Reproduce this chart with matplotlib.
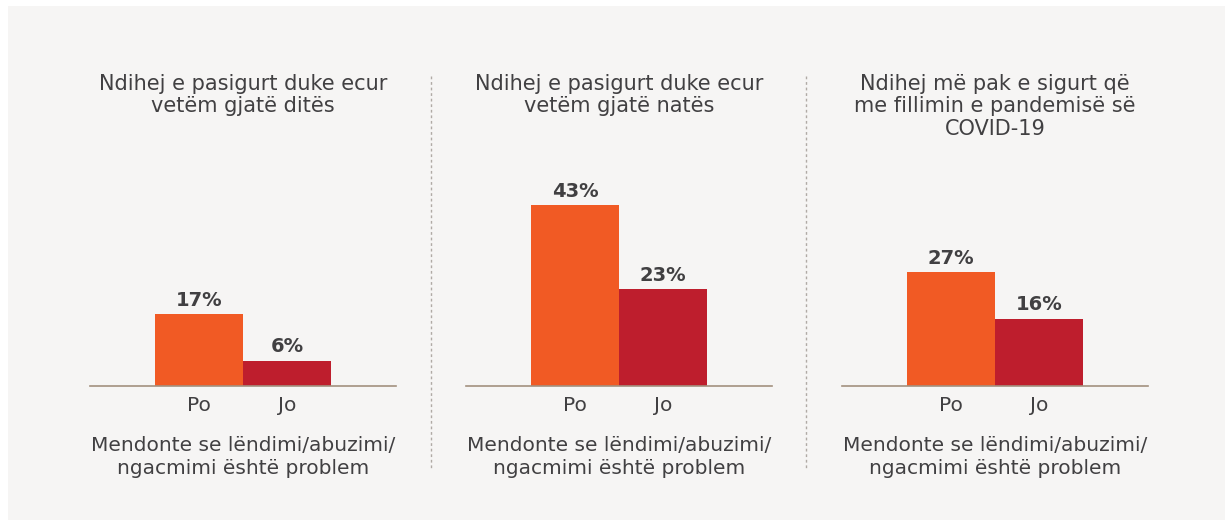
import numpy as np
import matplotlib
matplotlib.use('Agg')
import matplotlib.pyplot as plt
from matplotlib.patches import Rectangle
from matplotlib.lines import Line2D

# data
titles = ['Ndihej e pasigurt duke ecur\nvetëm gjatë ditës',
          'Ndihej e pasigurt duke ecur\nvetëm gjatë natës',
          'Ndihej më pak e sigurt që\nme fillimin e pandemisë së\nCOVID-19']
categories = ['Po', 'Jo']
po_values = [17, 43, 27]
jo_values = [6, 23, 16]
xlabel = 'Mendonte se lëndimi/abuzimi/\nngacmimi është problem'

orange = '#f15a24'
red = '#be1e2d'
txt = '#414042'
bg = '#f6f5f4'

plt.rcParams['font.family'] = ['DejaVu Sans']

W, H = 1225, 520
fig = plt.figure(figsize=(W / 100, H / 100), dpi=100)
fig.patch.set_facecolor('white')
# light gray panel
fig.patches.append(Rectangle((8 / W, 0), 1 - 8 / W, 1 - 6 / H, transform=fig.transFigure,
                             facecolor=bg, edgecolor='none', zorder=-10))

ax_left = [90, 466, 842]
ax_w = 306
base_y = 386
top_y = 150

for i in range(3):
    ax = fig.add_axes([ax_left[i] / W, 1 - base_y / H, ax_w / W, (base_y - top_y) / H])
    ax.set_facecolor('none')
    vals = [po_values[i], jo_values[i]]
    x = np.arange(len(categories))
    ax.bar(x, vals, width=1.0, color=[orange, red], zorder=2)
    for xi, v in zip(x, vals):
        ax.text(xi, v + 1.0, f'{v}%', ha='center', va='bottom', fontsize=14,
                fontweight='bold', color=txt)
    ax.set_xlim(-1.239, 2.239)
    ax.set_ylim(0, 56)
    for s in ['top', 'right', 'left']:
        ax.spines[s].set_visible(False)
    ax.spines['bottom'].set_color('#a3917f')
    ax.spines['bottom'].set_linewidth(1.2)
    ax.set_yticks([])
    ax.set_xticks(x)
    ax.set_xticklabels(categories, fontsize=14.5, color=txt)
    ax.tick_params(axis='x', length=0, pad=7)
    ax.set_xlabel(xlabel, fontsize=14.5, color=txt, labelpad=15, linespacing=1.3)

    cx = (ax_left[i] + ax_w / 2) / W
    fig.text(cx, 1 - 74 / H, titles[i], ha='center', va='top', fontsize=15,
             color=txt, linespacing=1.15)

# dotted separators
for xs in [431, 806]:
    fig.lines.append(Line2D([xs / W, xs / W], [1 - 76 / H, 1 - 468 / H],
                            transform=fig.transFigure, color='#b0aaa5',
                            linestyle=(0, (2, 2)), linewidth=1))

fig.savefig('out.png', dpi=100, facecolor=fig.get_facecolor())
